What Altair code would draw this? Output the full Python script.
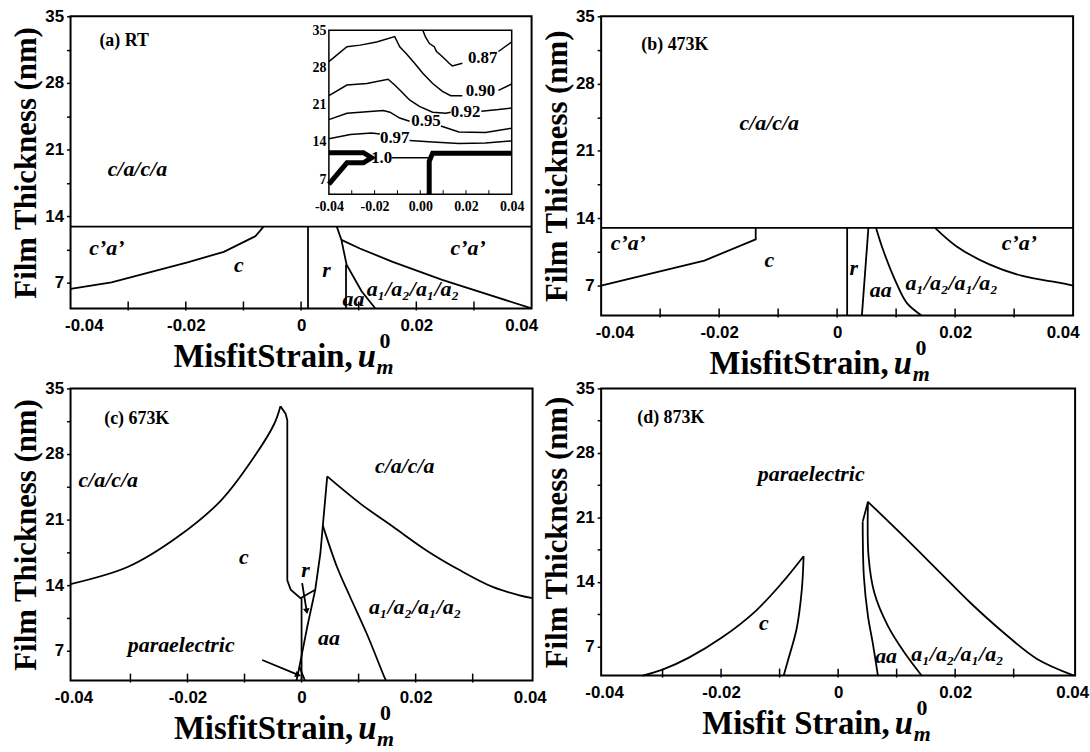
import math
import altair as alt
import pandas as pd

SERIF = "Liberation Serif"
SANS = "Liberation Sans"

Y_TITLE = "Film Thickness (nm)"
X_TITLE_ABC = "MisfitStrain,"
X_TITLE_D = "Misfit Strain,"
X_LABELS = [-0.04, -0.02, 0.0, 0.02, 0.04]
X_MINOR = [-0.03, -0.02, -0.01, 0.0, 0.01, 0.02, 0.03]
Y_TICKS = [7, 10.5, 14, 17.5, 21, 24.5, 28, 31.5, 35]
INSET_Y_LABELS = [7, 14, 21, 28, 35]
A1A2 = "a\u2081/a\u2082/a\u2081/a\u2082"

# ---------------- (a) RT ----------------
A_CA_TOP = [(-0.04, 12.9), (0.04, 12.9)]
A_CA_C = [(-0.04, 6.35), (-0.0329, 7.05), (-0.0197, 9.15), (-0.0134, 10.25), (-0.0079, 11.9), (-0.0065, 12.9)]
A_C_R = [(0.0012, 4.3), (0.0012, 12.9)]
A_R_A = [(0.0062, 12.9), (0.0070, 11.5), (0.0079, 8.9), (0.0105, 6.1), (0.0129, 4.3)]
A_R_AA = [(0.0078, 4.3), (0.0078, 8.9)]
A_A_CA = [(0.0070, 11.5), (0.0102, 10.6), (0.0159, 9.2), (0.0245, 7.3), (0.0400, 4.3)]
A_TAG = ("(a) RT", -0.0307, 32.4)
A_LABELS = [("c/a/c/a", -0.0284, 19.0), ("c\u2019a\u2019", -0.0337, 10.6), ("c\u2019a\u2019", 0.029, 10.6),
            ("c", -0.0108, 8.9), ("r", 0.0044, 8.35), ("aa", 0.0091, 5.3), (A1A2, 0.0194, 6.3)]

# inset of (a): tetragonality contours
INSET_X_DOMAIN = [-0.04, 0.04]
INSET_Y_DOMAIN = [4.2, 35]
C087_A = [(0.0011, 35.0), (0.0022, 33.8), (0.0040, 32.5), (0.0061, 31.9), (0.0071, 31.0), (0.0090, 30.3),
          (0.0112, 29.4), (0.0126, 28.8), (0.0140, 28.3), (0.0184, 28.8)]
C087_B = [(0.0342, 31.0), (0.0400, 32.8)]
C090_A = [(-0.04, 29.1), (-0.0321, 31.9), (-0.0263, 32.2), (-0.0191, 32.8), (-0.0112, 33.8), (-0.0090, 31.9),
          (-0.0061, 30.6), (-0.0025, 28.8), (0.0011, 26.9), (0.0054, 25.0), (0.0097, 23.5), (0.0133, 22.7),
          (0.0184, 22.7)]
C090_B = [(0.0342, 23.7), (0.0400, 24.9)]
C092_A = [(-0.04, 22.7), (-0.0321, 24.7), (-0.0234, 25.0), (-0.0141, 25.8), (-0.0112, 24.7), (-0.0083, 23.5),
          (-0.0047, 21.9), (-0.0004, 20.7), (0.0054, 19.6), (0.0112, 19.4), (0.0133, 19.6)]
C092_B = [(0.0267, 19.8), (0.0342, 20.1), (0.0400, 20.4)]
C095_A = [(-0.04, 18.2), (-0.0321, 19.4), (-0.0162, 19.9), (-0.0133, 19.6), (-0.0090, 18.5), (-0.0047, 17.9)]
C095_B = [(0.0090, 17.0), (0.0169, 15.9), (0.0285, 15.8), (0.0400, 16.6)]
C097_A = [(-0.04, 14.6), (-0.0306, 15.4), (-0.0213, 15.7), (-0.0177, 15.5)]
C097_B = [(-0.0047, 14.3), (0.0054, 14.0), (0.0169, 13.7), (0.0285, 13.8), (0.0400, 14.2)]
C100_LEFT = [(-0.04, 12.0), (-0.0249, 12.0), (-0.0213, 11.05), (-0.0249, 10.1), (-0.0321, 10.1), (-0.04, 6.1)]
C100_THIN = [(-0.0126, 11.05), (0.0035, 11.05)]
C100_RIGHT = [(0.0039, 4.2), (0.0039, 10.4), (0.0054, 11.9), (0.0400, 11.9)]
INSET_LABELS = [("0.87", 0.0273, 29.7), ("0.90", 0.0263, 23.5), ("0.92", 0.0198, 19.6),
                ("0.95", 0.0025, 17.9), ("0.97", -0.0112, 14.8), ("1.0", -0.0169, 10.95)]
INSET_X_RANGE = [260, 444]
INSET_Y_RANGE = [179, 14]

# ---------------- (b) 473K ----------------
B_CA_TOP = [(-0.04, 13.0), (0.04, 13.0)]
B_CA_C = [(-0.04, 7.0), (-0.0225, 9.6), (-0.0138, 11.8), (-0.0138, 13.0)]
B_C_R = [(0.0017, 3.9), (0.0017, 13.0)]
B_R_AA = [(0.0042, 3.9), (0.0053, 13.0)]
B_AA_A = [(0.0066, 13.0), (0.0078, 10.7), (0.0098, 7.6), (0.0118, 5.2), (0.0143, 3.9)]
B_A_CA = [(0.0166, 13.0), (0.0202, 11.1), (0.0258, 9.2), (0.0314, 8.0), (0.0376, 7.3), (0.0400, 7.0)]
B_TAG = ("(b) 473K", -0.0275, 32.0)
B_LABELS = [("c/a/c/a", -0.0115, 23.9), ("c\u2019a\u2019", -0.0354, 11.4), ("c\u2019a\u2019", 0.0309, 11.4),
            ("c", -0.0115, 9.7), ("r", 0.0028, 8.8), ("aa", 0.0074, 6.5), (A1A2, 0.0194, 7.3)]

# ---------------- (c) 673K ----------------
C_LEFT = [(-0.0405, 14.1), (-0.0304, 15.95), (-0.0217, 19.15), (-0.0141, 23.05),
          (-0.0083, 27.7), (-0.0048, 31.2), (-0.0037, 33.1)]
C_LEFT_TAIL = [(-0.0037, 33.1), (-0.0028, 32.3), (-0.0025, 31.6), (-0.0025, 14.5), (-0.0019, 13.5),
               (-0.0002, 12.6), (0.0024, 13.5)]
C_C_R = [(0.0, 3.8), (0.0, 12.6)]
C_RISE = [(-0.0009, 3.8), (-0.0006, 4.6), (0.0010, 9.55), (0.0024, 13.5), (0.0033, 17.4), (0.0045, 25.6)]
C_RIGHT = [(0.0045, 25.6), (0.0103, 22.7), (0.0161, 20.2), (0.0219, 17.7), (0.0277, 15.6), (0.0335, 13.8),
           (0.0382, 12.9), (0.0405, 12.6)]
C_AA = [(0.0037, 20.4), (0.0062, 15.95), (0.0085, 12.75), (0.0114, 8.85), (0.0146, 4.05), (0.0148, 3.8)]
C_SHORT = [(-0.0004, 5.3), (0.0006, 3.8)]
C_ARROW_R = [(0.0001, 14.2), (0.0009, 11.2)]
C_ARROW_P = [(-0.0069, 6.0), (-0.0006, 4.4)]
C_TAG = ("(c) 673K", -0.0289, 31.7)
C_LABELS = [("c/a/c/a", -0.0339, 25.2), ("c/a/c/a", 0.0181, 26.7), ("c", -0.0101, 17.0), ("r", 0.0007, 15.6),
            ("paraelectric", -0.0211, 7.6), ("aa", 0.0048, 8.3), (A1A2, 0.0199, 11.7)]

# ---------------- (d) 873K ----------------
D_C_OUTER = [(-0.0334, 3.85), (-0.0300, 4.5), (-0.0255, 5.8), (-0.0198, 8.0), (-0.0141, 10.85),
             (-0.0096, 13.9), (-0.0059, 16.8)]
D_C_INNER = [(-0.0059, 16.8), (-0.0062, 13.2), (-0.0071, 8.9), (-0.0085, 5.65), (-0.0093, 3.85)]
D_OUTER = [(0.0051, 22.7), (0.0113, 18.9), (0.0170, 15.3), (0.0226, 11.75), (0.0283, 8.5), (0.0340, 5.65),
           (0.0403, 3.85)]
D_AA_TOP = [(0.0051, 22.7), (0.0042, 20.55)]
D_AA_LEFT = [(0.0042, 20.55), (0.0044, 14.6), (0.0051, 10.3), (0.0059, 7.45), (0.0068, 3.85)]
D_AA_RIGHT = [(0.0051, 22.7), (0.0052, 16.8), (0.0062, 12.8), (0.0085, 9.24), (0.0113, 6.37), (0.0141, 4.0),
              (0.0143, 3.85)]
D_TAG = ("(d) 873K", -0.0286, 31.8)
D_LABELS = [("paraelectric", -0.0046, 25.7), ("c", -0.0127, 9.5), ("aa", 0.0082, 6.0), (A1A2, 0.0204, 6.2)]


def line_df(curves):
    rows = []
    for k, pts in enumerate(curves):
        for i, (x, y) in enumerate(pts):
            rows.append({"curve": k, "i": i, "x": x, "y": y})
    return pd.DataFrame(rows)


def label_df(labels):
    return pd.DataFrame([{"text": t, "x": x, "y": y} for t, x, y in labels])


SIGNED2 = "(datum.value < -1e-9 ? '-' : '') + format(abs(datum.value), '.2f')"


def title_layers(w, h, text):
    one = pd.DataFrame({"k": [0]})
    c = w / 2.0
    base = alt.Chart(one)
    return [
        base.mark_text(font=SERIF, fontSize=33, fontWeight="bold", align="right", baseline="alphabetic",
                       color="black").encode(x=alt.value(c + 52), y=alt.value(h + 59), text=alt.value(text)),
        base.mark_text(font=SERIF, fontSize=33, fontWeight="bold", fontStyle="italic", align="left",
                       baseline="alphabetic", color="black").encode(x=alt.value(c + 57), y=alt.value(h + 59),
                                                                    text=alt.value("u")),
        base.mark_text(font=SERIF, fontSize=22, fontWeight="bold", align="left", baseline="alphabetic",
                       color="black").encode(x=alt.value(c + 79), y=alt.value(h + 40), text=alt.value("0")),
        base.mark_text(font=SERIF, fontSize=22, fontWeight="bold", fontStyle="italic", align="left",
                       baseline="alphabetic", color="black").encode(x=alt.value(c + 76), y=alt.value(h + 66),
                                                                    text=alt.value("m")),
    ]


def main_layer(straight, smooth, labels, tag, xdom, ydom, w, h, xtitle, arrows=()):
    xs = alt.Scale(domain=xdom, nice=False, zero=False)
    ys = alt.Scale(domain=ydom, nice=False, zero=False)
    xax = alt.Axis(values=X_LABELS, labelExpr="datum.value == 0 ? '0' : " + SIGNED2, ticks=False, domain=False,
                   grid=False, labelFont=SANS, labelFontWeight="bold", labelFontSize=17, labelPadding=9,
                   labelFlush=True, labelFlushOffset=6, labelOverlap=False, labelColor="black", title=None)
    yax = alt.Axis(values=Y_TICKS, labelExpr="datum.value % 7 == 0 ? format(datum.value, 'd') : ''",
                   tickSize=4, tickColor="black", tickWidth=1.5, domain=False, grid=False, labelFont=SANS,
                   labelFontWeight="bold", labelFontSize=17, labelPadding=3, labelFlush=False,
                   labelOverlap=False, labelColor="black", title=Y_TITLE, titleFont=SERIF, titleFontSize=31,
                   titleFontWeight="bold", titlePadding=2, titleColor="black")

    def X():
        return alt.X("x:Q", scale=xs, axis=xax)

    def Y():
        return alt.Y("y:Q", scale=ys, axis=yax)

    layers = []
    layers.append(alt.Chart(pd.DataFrame({"x": X_MINOR})).mark_rule(color="black", strokeWidth=1.5).encode(
        x=X(), y=alt.value(h + 2), y2=alt.value(h - 7)))
    layers.append(alt.Chart(line_df(straight)).mark_line(color="black", strokeWidth=1.8).encode(
        x=X(), y=Y(), detail="curve:N", order="i:Q"))
    if smooth:
        layers.append(alt.Chart(line_df(smooth)).mark_line(color="black", strokeWidth=1.8,
                                                           interpolate="catmull-rom").encode(
            x=X(), y=Y(), detail="curve:N", order="i:Q"))
    if arrows:
        layers.append(alt.Chart(line_df(arrows)).mark_line(color="black", strokeWidth=1.8).encode(
            x=X(), y=Y(), detail="curve:N", order="i:Q"))
        kx = w / (xdom[1] - xdom[0])
        ky = h / (ydom[1] - ydom[0])
        heads = []
        for (x0, y0), (x1, y1) in arrows:
            ang = math.degrees(math.atan2(-(y1 - y0) * ky, (x1 - x0) * kx)) % 360
            heads.append({"x": x1, "y": y1, "angle": ang})
        layers.append(alt.Chart(pd.DataFrame(heads)).mark_point(shape="triangle-right", filled=True,
                                                                 color="black", size=45, opacity=1).encode(
            x=X(), y=Y(), angle=alt.Angle("angle:Q", scale=None)))
    layers.append(alt.Chart(label_df(labels)).mark_text(font=SERIF, fontSize=22, fontStyle="italic",
                                                        fontWeight="bold", color="black").encode(
        x=X(), y=Y(), text="text:N"))
    layers.append(alt.Chart(label_df([tag])).mark_text(font=SERIF, fontSize=18, fontWeight="bold",
                                                       color="black").encode(x=X(), y=Y(), text="text:N"))
    layers += title_layers(w, h, xtitle)
    return alt.layer(*layers)


def inset_layer(h):
    xs = alt.Scale(domain=INSET_X_DOMAIN, range=INSET_X_RANGE, nice=False, zero=False)
    ys = alt.Scale(domain=INSET_Y_DOMAIN, range=INSET_Y_RANGE, nice=False, zero=False)
    xax = alt.Axis(values=X_LABELS, labelExpr=SIGNED2, orient="bottom", offset=-(h - INSET_Y_RANGE[0]),
                   ticks=False, domain=False, grid=False, labelFont=SERIF, labelFontWeight="bold",
                   labelFontSize=14, labelPadding=5, labelFlush=False, labelOverlap=False,
                   labelColor="black", title=None)
    yax = alt.Axis(values=INSET_Y_LABELS, format="d", orient="left", offset=-INSET_X_RANGE[0], ticks=False,
                   domain=False, grid=False, labelFont=SERIF, labelFontWeight="bold", labelFontSize=14,
                   labelPadding=3, labelFlush=False, labelOverlap=False, labelColor="black", title=None)

    def X():
        return alt.X("x:Q", scale=xs, axis=xax)

    def Y():
        return alt.Y("y:Q", scale=ys, axis=yax)

    frame = pd.DataFrame({"x": [INSET_X_DOMAIN[0]], "x2": [INSET_X_DOMAIN[1]],
                          "y": [INSET_Y_DOMAIN[0]], "y2": [INSET_Y_DOMAIN[1]]})
    layers = [
        alt.Chart(frame).mark_rect(fill="white", stroke="black", strokeWidth=1.5).encode(
            x=X(), x2="x2:Q", y=Y(), y2="y2:Q"),
        alt.Chart(pd.DataFrame({"x": X_MINOR})).mark_rule(color="black", strokeWidth=1).encode(
            x=X(), y=alt.value(INSET_Y_RANGE[0]), y2=alt.value(INSET_Y_RANGE[0] - 4)),
        alt.Chart(line_df([C087_A, C087_B, C090_A, C090_B, C092_A, C092_B, C095_A, C095_B, C097_A, C097_B,
                           C100_THIN])).mark_line(color="black", strokeWidth=1.5).encode(
            x=X(), y=Y(), detail="curve:N", order="i:Q"),
        alt.Chart(line_df([C100_LEFT, C100_RIGHT])).mark_line(color="black", strokeWidth=5).encode(
            x=X(), y=Y(), detail="curve:N", order="i:Q"),
        alt.Chart(label_df(INSET_LABELS)).mark_text(font=SERIF, fontSize=17, fontWeight="bold",
                                                    color="black").encode(x=X(), y=Y(), text="text:N"),
    ]
    return alt.layer(*layers)


WA, HA = 464, 294
WB, HB = 475, 301
WC, HC = 465, 294
WD, HD = 477, 289

panel_a = alt.layer(
    main_layer([A_CA_TOP, A_CA_C, A_C_R, A_R_A, A_R_AA, A_A_CA], [], A_LABELS, A_TAG, [-0.04, 0.04],
               [4.3, 35], WA, HA, X_TITLE_ABC),
    inset_layer(HA),
).resolve_scale(x="independent", y="independent").properties(width=WA, height=HA)

panel_b = main_layer([B_CA_TOP, B_CA_C, B_C_R, B_R_AA], [B_AA_A, B_A_CA], B_LABELS, B_TAG, [-0.04, 0.04],
                     [3.9, 35], WB, HB, X_TITLE_ABC).properties(width=WB, height=HB)

panel_c = main_layer([C_LEFT_TAIL, C_C_R, C_RISE, C_SHORT], [C_LEFT, C_RIGHT, C_AA], C_LABELS, C_TAG,
                     [-0.0405, 0.0405], [3.8, 35], WC, HC, X_TITLE_ABC,
                     arrows=[C_ARROW_R, C_ARROW_P]).properties(width=WC, height=HC)

panel_d = main_layer([D_AA_TOP], [D_C_OUTER, D_C_INNER, D_OUTER, D_AA_LEFT, D_AA_RIGHT], D_LABELS, D_TAG,
                     [-0.0405, 0.0405], [3.85, 35], WD, HD, X_TITLE_D).properties(width=WD, height=HD)

chart = alt.concat(
    panel_a, panel_b, panel_c, panel_d,
    columns=2,
    spacing={"row": 73.5, "column": 69},
    bounds="flush",
).properties(
    padding={"left": 10, "top": 4, "right": 0, "bottom": 0},
    background="white",
).configure_view(stroke="black", strokeWidth=2)

chart.save("out.html", embed_options={"renderer": "svg", "actions": False})
